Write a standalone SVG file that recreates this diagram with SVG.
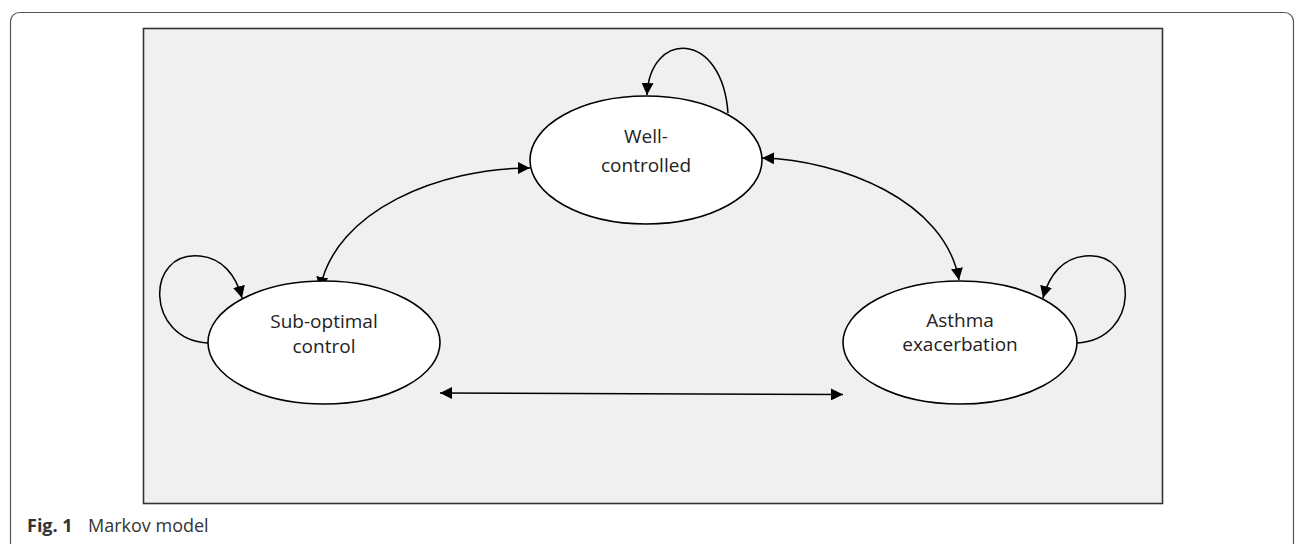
<svg xmlns="http://www.w3.org/2000/svg" width="1296" height="544" viewBox="0 0 1296 544">
<style>
.node{fill:#ffffff;stroke:#000;stroke-width:1.6}
.lbl{font-family:"Open Sans","Liberation Sans",sans-serif;font-size:19px;fill:#222;text-anchor:middle}
.con{fill:none;stroke:#000;stroke-width:1.5}
.cap{font-family:"Open Sans","Liberation Sans",sans-serif;font-size:18px;fill:#333}
</style>
<defs>
<marker id="ah" markerUnits="userSpaceOnUse" markerWidth="12" markerHeight="12" viewBox="0 0 12 12" refX="12" refY="6" orient="auto-start-reverse">
<path d="M0,0 L12,6 L0,12 z" fill="#000"/>
</marker>
</defs>
<rect x="10.5" y="12.5" width="1283" height="540" rx="9" fill="#fff" stroke="#555" stroke-width="1.2"/>
<rect x="143.5" y="28.5" width="1019" height="475" fill="#eff0ef" stroke="#333" stroke-width="1.6"/>
<g id="connectors">
<path class="con" d="M728,113 C722,30 650,30 647,95" marker-end="url(#ah)"/>
<path class="con" d="M208,343 C145,340 145,250 200,256 C222,258 236,275 242,298" marker-end="url(#ah)"/>
<path class="con" d="M1077,343 C1140,340 1140,250 1085,256 C1063,258 1049,275 1043,298" marker-end="url(#ah)"/>
<path class="con" d="M530,168 C440,168 335,210 320,289" marker-start="url(#ah)" marker-end="url(#ah)"/>
<path class="con" d="M762,158 C840,160 945,200 959,280" marker-start="url(#ah)" marker-end="url(#ah)"/>
<path class="con" d="M440,393 L843,394.5" marker-start="url(#ah)" marker-end="url(#ah)"/>
</g>
<g id="well-controlled">
<ellipse class="node" cx="646" cy="160" rx="116" ry="64"/>
<text class="lbl" x="646" y="143">Well-</text>
<text class="lbl" x="646" y="172">controlled</text>
</g>
<g id="sub-optimal">
<ellipse class="node" cx="324" cy="342.5" rx="116" ry="61.5"/>
<text class="lbl" x="324" y="328">Sub-optimal</text>
<text class="lbl" x="324" y="353">control</text>
</g>
<g id="asthma">
<ellipse class="node" cx="960" cy="342.5" rx="117" ry="61.5"/>
<text class="lbl" x="960" y="327">Asthma</text>
<text class="lbl" x="960" y="351">exacerbation</text>
</g>
<text class="cap" x="27" y="532" font-weight="bold">Fig. 1</text>
<text class="cap" x="88" y="532">Markov model</text>
</svg>
